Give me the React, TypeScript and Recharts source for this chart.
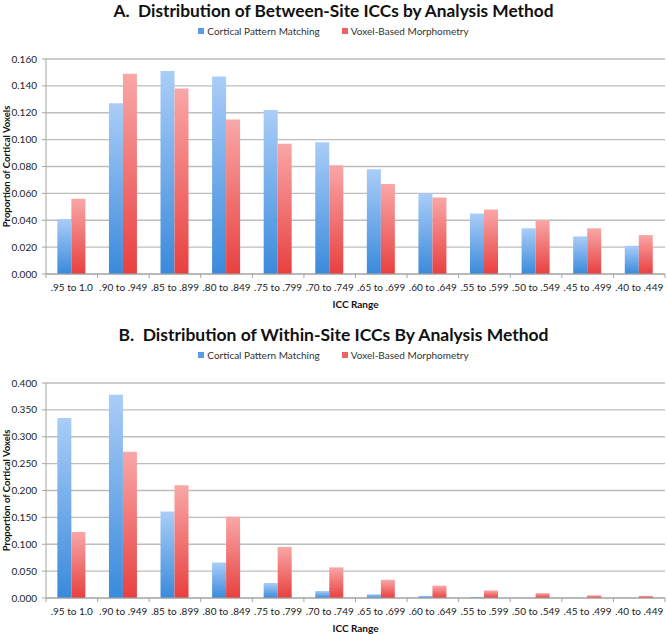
import {
  BarChart, Bar, XAxis, YAxis, CartesianGrid, Legend
} from 'recharts'

const categories = [
  '.95 to 1.0', '.90 to .949', '.85 to .899', '.80 to .849',
  '.75 to .799', '.70 to .749', '.65 to .699', '.60 to .649',
  '.55 to .599', '.50 to .549', '.45 to .499', '.40 to .449',
]

const betweenCPM = [0.041, 0.127, 0.151, 0.147, 0.122, 0.098, 0.078, 0.060, 0.045, 0.034, 0.028, 0.021]
const betweenVBM = [0.056, 0.149, 0.138, 0.115, 0.097, 0.081, 0.067, 0.057, 0.048, 0.040, 0.034, 0.029]

const withinCPM = [0.335, 0.378, 0.161, 0.066, 0.028, 0.013, 0.007, 0.004, 0.002, 0.001, 0.0005, 0.0002]
const withinVBM = [0.123, 0.272, 0.210, 0.151, 0.095, 0.057, 0.034, 0.023, 0.014, 0.009, 0.005, 0.004]

const betweenTicks = [0, 0.02, 0.04, 0.06, 0.08, 0.1, 0.12, 0.14, 0.16]
const withinTicks = [0, 0.05, 0.1, 0.15, 0.2, 0.25, 0.3, 0.35, 0.4]

const SERIES = ['Cortical Pattern Matching', 'Voxel-Based Morphometry']

const FONT = 'Lato, "Open Sans", sans-serif'
const AXIS_GRAY = '#a6a6a6'

const CatTick = (props: any) => {
  const { x, y, payload, index } = props
  const half = payload.offset || 0
  return (
    <g>
      <line x1={x - half} x2={x - half} y1={y} y2={y + 4} stroke={AXIS_GRAY} />
      {index === categories.length - 1 && (
        <line x1={x + half} x2={x + half} y1={y} y2={y + 4} stroke={AXIS_GRAY} />
      )}
      <text x={x} y={y + 17} textAnchor="middle" fontSize={10} fill="#222" fontFamily={FONT}>
        {payload.value}
      </text>
    </g>
  )
}

const YLabel = (props: any) => {
  const vb = props.viewBox || {}
  const cx = 6
  const cy = vb.y + vb.height / 2
  return (
    <text
      x={cx} y={cy}
      transform={`rotate(-90 ${cx} ${cy})`}
      textAnchor="middle" dominantBaseline="central"
      fontSize={9.5} fontWeight={700} fill="#111" fontFamily={FONT}
    >
      Proportion of Cortical Voxels
    </text>
  )
}

const LegendBox = () => (
  <div style={{ display: 'flex', justifyContent: 'center', gap: 22, fontFamily: FONT, fontSize: 10, color: '#333' }}>
    {SERIES.map((s, i) => (
      <span key={s} style={{ display: 'flex', alignItems: 'center' }}>
        <span style={{ width: 6, height: 6, marginRight: 3, background: i === 0 ? '#5b9be6' : '#f06262', display: 'inline-block' }} />
        {s}
      </span>
    ))}
  </div>
)

function Panel({ title, titleWidth, cpm, vbm, ticks, max, top }: {
  title: string; titleWidth: number; cpm: number[]; vbm: number[]; ticks: number[]; max: number; top: number
}) {
  const data = categories.map((c, i) => ({ range: c, cpm: cpm[i], vbm: vbm[i] }))
  return (
    <div style={{ position: 'absolute', left: 0, top, width: 667, height: 310 }}>
      <svg width={667} height={24} style={{ position: 'absolute', left: 0, top: 0 }}>
        <text
          x={333.5} y={17} textAnchor="middle" fontSize={17} fontWeight={700}
          fill="#111" fontFamily={FONT} textLength={titleWidth} lengthAdjust="spacingAndGlyphs"
        >
          {title}
        </text>
      </svg>
      <BarChart
        width={667} height={310} data={data}
        margin={{ top: 47, right: 2, left: 0, bottom: 0 }}
        barCategoryGap="22%" barGap={0}
      >
        <defs>
          <linearGradient id={`gb${top}`} x1="0" y1="0" x2="0" y2="1">
            <stop offset="0%" stopColor="#aacdf8" />
            <stop offset="100%" stopColor="#3a8adb" />
          </linearGradient>
          <linearGradient id={`gr${top}`} x1="0" y1="0" x2="0" y2="1">
            <stop offset="0%" stopColor="#f9a7a7" />
            <stop offset="100%" stopColor="#e8403f" />
          </linearGradient>
        </defs>
        <CartesianGrid vertical={false} stroke="#bdbdbd" strokeWidth={1.4} />
        <XAxis
          dataKey="range" interval={0} height={36}
          tickSize={0} tickMargin={0}
          axisLine={{ stroke: AXIS_GRAY }}
          tick={<CatTick />}
          label={{ value: 'ICC Range', position: 'insideBottom', offset: 2, fontSize: 10, fontWeight: 700, fill: '#111', fontFamily: FONT }}
        />
        <YAxis
          width={46} domain={[0, max]} ticks={ticks} interval={0}
          tickFormatter={(v: number) => v.toFixed(3)}
          tick={{ fontSize: 10, fill: '#222', fontFamily: FONT }}
          tickSize={4} tickMargin={5}
          axisLine={{ stroke: AXIS_GRAY }} tickLine={{ stroke: AXIS_GRAY }}
          label={<YLabel />}
        />
        <Legend
          verticalAlign="top"
          content={<LegendBox />}
          wrapperStyle={{ position: 'absolute', top: 25, left: 0, width: 667 }}
        />
        <Bar dataKey="cpm" name={SERIES[0]} fill={`url(#gb${top})`} isAnimationActive={false} />
        <Bar dataKey="vbm" name={SERIES[1]} fill={`url(#gr${top})`} isAnimationActive={false} />
      </BarChart>
    </div>
  )
}

export default function App() {
  return (
    <div style={{ position: 'absolute', left: 0, top: 0, width: 667, height: 634, background: '#fff' }}>
      <Panel
        title={'A.\u00a0 Distribution of Between-Site ICCs by Analysis Method'}
        titleWidth={440} cpm={betweenCPM} vbm={betweenVBM}
        ticks={betweenTicks} max={0.16} top={0}
      />
      <Panel
        title={'B.\u00a0 Distribution of Within-Site ICCs By Analysis Method'}
        titleWidth={430} cpm={withinCPM} vbm={withinVBM}
        ticks={withinTicks} max={0.4} top={324}
      />
    </div>
  )
}
